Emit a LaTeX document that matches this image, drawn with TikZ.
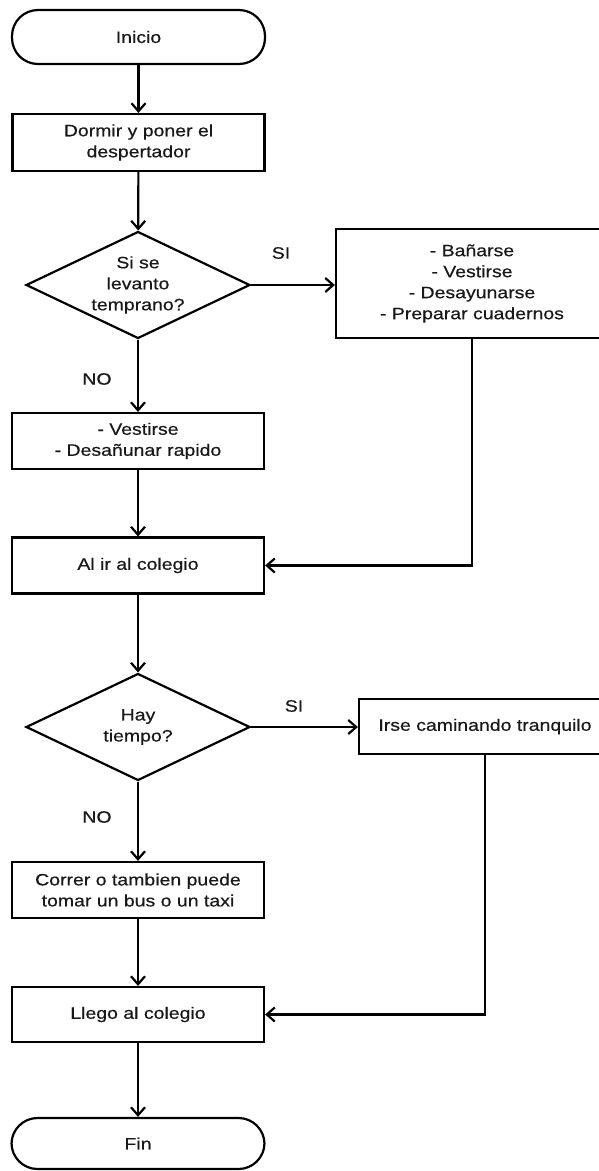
\documentclass[tikz,border=0pt]{standalone}
\usepackage{fontspec}
\newfontfamily\lab[FakeStretch=1.18,FakeBold=0.5]{Liberation Sans}
\usetikzlibrary{shapes.geometric,arrows.meta}
\begin{document}
\begin{tikzpicture}[x=1pt,y=-1pt,
  every node/.style={font=\lab\fontsize{16.5}{21}\selectfont, text=black!90},
  proc/.style={draw=black, line width=2.2pt, rectangle, minimum width=252pt, minimum height=56pt, inner sep=0pt, align=center},
  term/.style={draw=black, line width=2.2pt, rectangle, rounded corners=26pt, minimum width=253pt, minimum height=54pt, inner sep=0pt},
  dec/.style={draw=black, line width=2.2pt, diamond, minimum width=224pt, minimum height=107pt, inner sep=0pt},
  flow/.style={line width=2.2pt, -{Straight Barb[length=8pt,width=14pt]}},
  lbl/.style={inner sep=0pt, align=center}]
\useasboundingbox (0,0) rectangle (599,1171);
\clip (0,0) rectangle (599,1171);
\node[term] (inicio) at (138.5,37) {Inicio};
\node[proc, minimum height=57pt] (dormir) at (138.5,142.5) {Dormir y poner el\\despertador};
\node[dec] (d1) at (138,285) {};
\node[lbl] (d1t) at (d1) {Si se\\levanto\\temprano?};
\node[proc, minimum width=272pt, minimum height=109pt] (banar) at (472,283.5) {- Bañarse\\- Vestirse\\- Desayunarse\\- Preparar cuadernos};
\node[lbl] (si1) at (281,253) {SI};
\node[lbl] (no1) at (97,379) {NO};
\node[proc] (vest) at (138,441) {- Vestirse\\- Desañunar rapido};
\node[proc] (alir) at (138,565.5) {Al ir al colegio};
\node[dec] (d2) at (138,727) {};
\node[lbl] (d2t) at (d2) {Hay\\tiempo?};
\node[lbl] (si2) at (294,706) {SI};
\node[lbl] (no2) at (97,817) {NO};
\node[proc, minimum height=55pt] (irse) at (485,726.5) {Irse caminando tranquilo};
\node[proc] (correr) at (138,890) {Correr o tambien puede\\tomar un bus o un taxi};
\node[proc, minimum height=55pt] (llego) at (138,1014.5) {Llego al colegio};
\node[term, minimum height=51pt] (fin) at (138,1143.5) {Fin};
\draw[flow] (inicio) -- (dormir);
\draw[flow] (dormir) -- (d1);
\draw[flow] (d1.east) -- (banar.west |- d1.east);
\draw[flow] (d1) -- (vest);
\draw[flow] (vest) -- (alir);
\draw[flow] (banar.south) |- (alir.east);
\draw[flow] (alir) -- (d2);
\draw[flow] (d2.east) -- (irse.west |- d2.east);
\draw[flow] (d2) -- (correr);
\draw[flow] (correr) -- (llego);
\draw[flow] (irse.south) |- (llego.east);
\draw[flow] (llego) -- (fin);
\end{tikzpicture}
\end{document}
